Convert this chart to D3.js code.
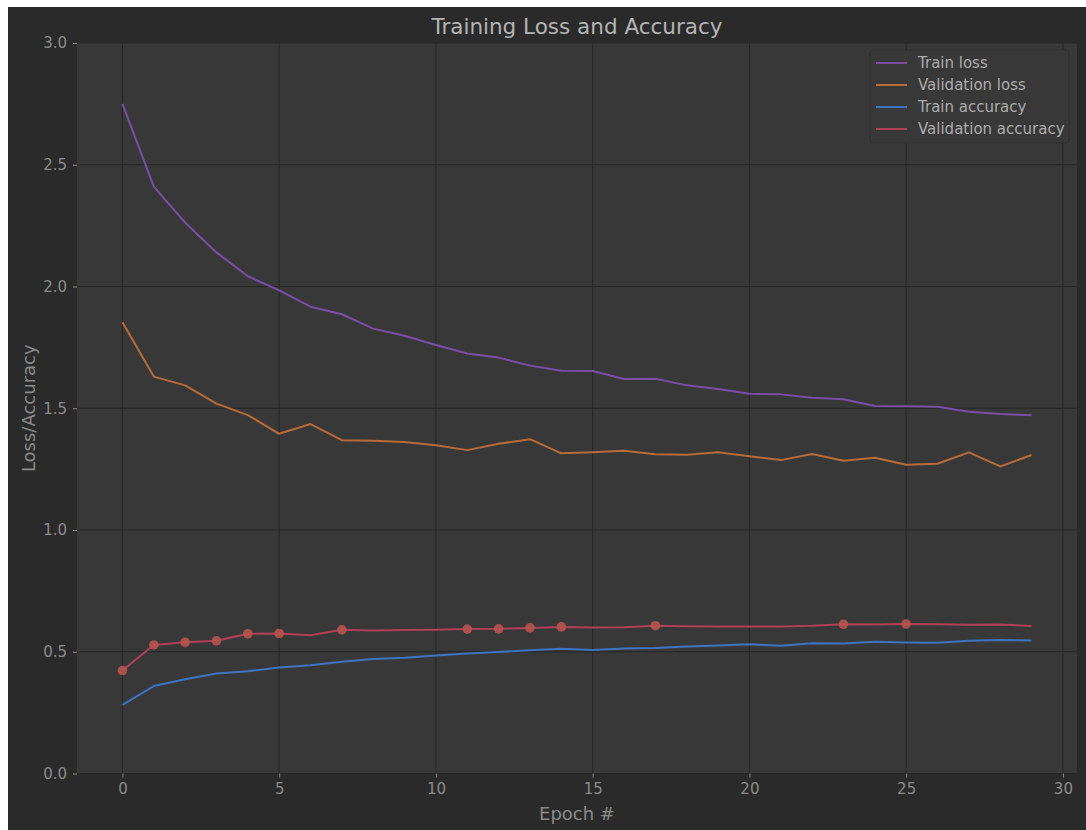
<!DOCTYPE html>
<html>
<head>
<meta charset="utf-8">
<script src="https://cdn.jsdelivr.net/npm/d3@7"></script>
<style>
  html, body { margin: 0; padding: 0; background: #ffffff; overflow: hidden; }
  svg { display: block; font-family: "DejaVu Sans", sans-serif; }
</style>
</head>
<body>
<svg id="canvas" width="1086" height="830"></svg>
<script>
const epochs = d3.range(0, 30);

const trainLoss = [2.750, 2.410, 2.262, 2.140, 2.042, 1.984, 1.917, 1.886, 1.827, 1.798,
  1.760, 1.725, 1.708, 1.675, 1.654, 1.653, 1.620, 1.621, 1.594, 1.579,
  1.560, 1.557, 1.543, 1.537, 1.509, 1.508, 1.506, 1.486, 1.476, 1.471];
const valLoss = [1.853, 1.630, 1.594, 1.519, 1.472, 1.395, 1.435, 1.369, 1.367, 1.361,
  1.348, 1.328, 1.354, 1.373, 1.315, 1.319, 1.325, 1.311, 1.309, 1.319,
  1.303, 1.287, 1.312, 1.284, 1.297, 1.268, 1.272, 1.319, 1.261, 1.308];
const trainAcc = [0.282, 0.359, 0.387, 0.411, 0.420, 0.435, 0.445, 0.459, 0.470, 0.475,
  0.485, 0.493, 0.499, 0.506, 0.512, 0.507, 0.513, 0.515, 0.522, 0.526,
  0.531, 0.525, 0.535, 0.534, 0.541, 0.538, 0.537, 0.545, 0.548, 0.546];
const valAcc = [0.423, 0.528, 0.539, 0.545, 0.574, 0.575, 0.568, 0.590, 0.587, 0.589,
  0.590, 0.593, 0.594, 0.598, 0.602, 0.600, 0.601, 0.607, 0.605, 0.604,
  0.604, 0.604, 0.607, 0.613, 0.612, 0.614, 0.613, 0.611, 0.612, 0.606];
// epochs where the validation accuracy reached a new best (marked with a dot)
const bestEpochs = [0, 1, 2, 3, 4, 5, 7, 11, 12, 13, 14, 17, 23, 25];

const xTicks = [0, 5, 10, 15, 20, 25, 30];
const yTicks = [0.0, 0.5, 1.0, 1.5, 2.0, 2.5, 3.0];

const series = [
  { name: "Train loss", values: trainLoss, color: "#7b4ea6" },
  { name: "Validation loss", values: valLoss, color: "#b86b3a" },
  { name: "Train accuracy", values: trainAcc, color: "#3f73c2" },
  { name: "Validation accuracy", values: valAcc, color: "#b13f5a" }
];

const plot = { left: 77, top: 43, right: 1077, bottom: 773.5 };

function main() {
  const svg = d3.select("#canvas");

  // figure background (offset like the reference)
  svg.append("rect")
    .attr("x", 8).attr("y", 7)
    .attr("width", 1086 - 8).attr("height", 830 - 7)
    .attr("fill", "#2a2a2a");

  svg.append("rect")
    .attr("x", plot.left).attr("y", plot.top)
    .attr("width", plot.right - plot.left).attr("height", plot.bottom - plot.top)
    .attr("fill", "#383838");

  const x = d3.scaleLinear().domain([-1.45, 30.45]).range([plot.left, plot.right]);
  const y = d3.scaleLinear().domain([0, 3]).range([plot.bottom, plot.top]);

  // grid
  const grid = svg.append("g").attr("stroke", "#262626").attr("stroke-width", 1);
  grid.selectAll(".gx").data(xTicks).enter().append("line")
    .attr("x1", d => x(d)).attr("x2", d => x(d))
    .attr("y1", plot.top).attr("y2", plot.bottom);
  grid.selectAll(".gy").data(yTicks).enter().append("line")
    .attr("x1", plot.left).attr("x2", plot.right)
    .attr("y1", d => y(d)).attr("y2", d => y(d));

  // axes
  const xAxis = svg.append("g")
    .attr("transform", `translate(0,${plot.bottom})`)
    .call(d3.axisBottom(x).tickValues(xTicks).tickFormat(d3.format("d")).tickSize(4).tickPadding(6));
  const yAxis = svg.append("g")
    .attr("transform", `translate(${plot.left},0)`)
    .call(d3.axisLeft(y).tickValues(yTicks).tickFormat(d3.format(".1f")).tickSize(4).tickPadding(6));

  [xAxis, yAxis].forEach(a => {
    a.select(".domain").remove();
    a.selectAll(".tick line").attr("stroke", "#8a8a8a").attr("stroke-width", 1);
    a.selectAll(".tick text")
      .attr("fill", "#8a8a8a")
      .style("font-size", "15px")
      .style("font-family", "'DejaVu Sans', sans-serif");
  });

  // lines
  const line = d3.line().x((d, i) => x(epochs[i])).y(d => y(d));
  svg.append("g").selectAll("path")
    .data(series)
    .enter()
    .append("path")
    .attr("d", d => line(d.values))
    .attr("fill", "none")
    .attr("stroke", d => d.color)
    .attr("stroke-width", 2)
    .attr("stroke-linejoin", "round");

  // best-epoch markers
  svg.append("g").selectAll("circle")
    .data(bestEpochs)
    .enter()
    .append("circle")
    .attr("cx", d => x(d))
    .attr("cy", d => y(valAcc[d]))
    .attr("r", 4.8)
    .attr("fill", "#b3544e")
    .attr("opacity", 0.92);

  // title and labels
  svg.append("text")
    .attr("x", (plot.left + plot.right) / 2).attr("y", 34)
    .attr("text-anchor", "middle")
    .attr("fill", "#b4b4b4")
    .style("font-size", "21.5px")
    .text("Training Loss and Accuracy");

  svg.append("text")
    .attr("x", (plot.left + plot.right) / 2).attr("y", 820)
    .attr("text-anchor", "middle")
    .attr("fill", "#8a8a8a")
    .style("font-size", "18px")
    .text("Epoch #");

  svg.append("text")
    .attr("transform", `translate(35,${(plot.top + plot.bottom) / 2}) rotate(-90)`)
    .attr("text-anchor", "middle")
    .attr("fill", "#8a8a8a")
    .style("font-size", "18px")
    .text("Loss/Accuracy");

  // legend
  const legend = svg.append("g").attr("transform", "translate(870,50)");
  legend.append("rect")
    .attr("width", 199).attr("height", 93)
    .attr("rx", 3)
    .attr("fill", "#383838")
    .attr("stroke", "#2e2e2e")
    .attr("stroke-width", 1);
  const item = legend.selectAll(".item")
    .data(series)
    .enter()
    .append("g")
    .attr("transform", (d, i) => `translate(0,${13 + i * 22})`);
  item.append("line")
    .attr("x1", 6).attr("x2", 37)
    .attr("stroke", d => d.color)
    .attr("stroke-width", 2);
  item.append("text")
    .attr("x", 48).attr("y", 5)
    .attr("fill", "#acacac")
    .style("font-size", "15px")
    .text(d => d.name);
}

main();
</script>
</body>
</html>
